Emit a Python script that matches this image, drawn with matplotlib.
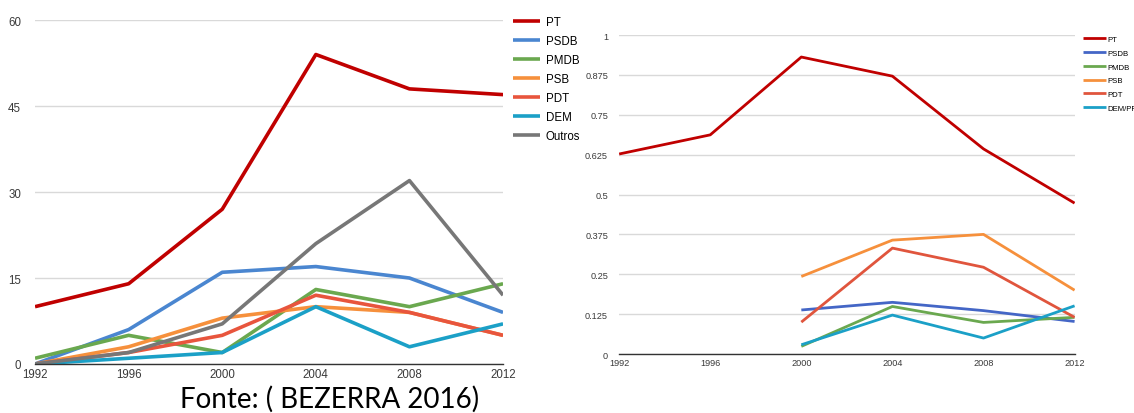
import matplotlib.pyplot as plt
import numpy as np

years = [1992, 1996, 2000, 2004, 2008, 2012]

# left chart: number of mayors/counts per party
left_parties = ["PT", "PSDB", "PMDB", "PSB", "PDT", "DEM", "Outros"]
left_pt = [10, 14, 27, 54, 48, 47]
left_psdb = [0, 6, 16, 17, 15, 9]
left_pmdb = [1, 5, 2, 13, 10, 14]
left_psb = [0, 3, 8, 10, 9, 5]
left_pdt = [0, 2, 5, 12, 9, 5]
left_dem = [0, 1, 2, 10, 3, 7]
left_outros = [0, 2, 7, 21, 32, 12]
left_colors = ["#c00000", "#4a86d0", "#6aa84f", "#f6903c", "#e8553d", "#1ba0c7", "#777777"]
left_yticks = [0, 15, 30, 45, 60]

# right chart: share per party
right_parties = ["PT", "PSDB", "PMDB", "PSB", "PDT", "DEM/PF"]
nan = np.nan
right_pt = [0.627, 0.687, 0.931, 0.871, 0.643, 0.473]
right_psdb = [nan, nan, 0.138, 0.162, 0.136, 0.102]
right_pmdb = [nan, nan, 0.024, 0.149, 0.099, 0.115]
right_psb = [nan, nan, 0.243, 0.357, 0.375, 0.200]
right_pdt = [nan, nan, 0.100, 0.332, 0.272, 0.115]
right_dem = [nan, nan, 0.029, 0.122, 0.050, 0.151]
right_colors = ["#c00000", "#4466c6", "#6aa84f", "#f6903c", "#e0553d", "#1ba0c7"]
right_yticks = [0, 0.125, 0.25, 0.375, 0.5, 0.625, 0.75, 0.875, 1]
right_yticklabels = ["0", "0.125", "0.25", "0.375", "0.5", "0.625", "0.75", "0.875", "1"]

plt.rcParams["font.family"] = ["Liberation Sans", "DejaVu Sans"]

fig = plt.figure(figsize=(11.34, 4.14), dpi=100)


def style_axis(ax, yticks, fs):
    ax.set_xlim(1992, 2012)
    ax.set_xticks(years)
    ax.set_yticks(yticks)
    ax.grid(axis="y", color="#d9d9d9", linewidth=1)
    ax.set_axisbelow(True)
    for s in ["top", "right", "left"]:
        ax.spines[s].set_visible(False)
    ax.spines["bottom"].set_color("#333333")
    ax.spines["bottom"].set_linewidth(1)
    ax.tick_params(length=0, labelsize=fs, colors="#3a3a3a", pad=3)


# left
ax1 = fig.add_axes([0.0309, 0.1184, 0.4127, 0.8306])
left_series = [left_pt, left_psdb, left_pmdb, left_psb, left_pdt, left_dem, left_outros]
for name, vals, c in zip(left_parties, left_series, left_colors):
    ax1.plot(years, vals, color=c, lw=2.6, label=name, solid_capstyle="butt")
ax1.set_ylim(0, 60)
style_axis(ax1, left_yticks, 8.3)
ax1.tick_params(axis="y", pad=10)
ax1.legend(loc="upper left", bbox_to_anchor=(0.452, 0.958), bbox_transform=fig.transFigure,
           frameon=False, fontsize=8.3, handlelength=2.4, handletextpad=0.5,
           labelspacing=0.6, borderaxespad=0, borderpad=0)

# right
ax2 = fig.add_axes([0.546, 0.1425, 0.4016, 0.7705])
right_series = [right_pt, right_psdb, right_pmdb, right_psb, right_pdt, right_dem]
for name, vals, c in zip(right_parties, right_series, right_colors):
    ax2.plot(years, vals, color=c, lw=2.0, label=name, solid_capstyle="butt")
ax2.set_ylim(0, 1)
style_axis(ax2, right_yticks, 6.6)
ax2.set_yticklabels(right_yticklabels)
ax2.tick_params(axis="y", pad=8)
ax2.legend(loc="upper left", bbox_to_anchor=(0.955, 0.912), bbox_transform=fig.transFigure,
           frameon=False, fontsize=5.6, handlelength=2.9, handletextpad=0.2,
           labelspacing=0.82, borderaxespad=0, borderpad=0)

fig.text(0.159, 0.004, "Fonte: ( BEZERRA 2016)", fontsize=20, family=["Lato", "DejaVu Sans"],
         ha="left", va="bottom", color="#000000")

fig.savefig("out.png", dpi=100)
